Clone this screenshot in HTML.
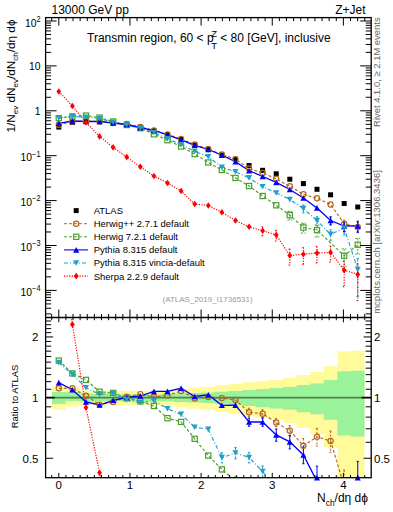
<!DOCTYPE html><html><head><meta charset="utf-8"><style>html,body{margin:0;padding:0;background:#fff;width:393px;height:512px;overflow:hidden}svg{display:block}</style></head><body><svg width="393" height="512" viewBox="0 0 393 512">
<defs><clipPath id="rclip"><rect x="45.6" y="317.5" width="325.59999999999997" height="160.2"/></clipPath><clipPath id="mclip"><rect x="45.6" y="17.6" width="325.59999999999997" height="299.9"/></clipPath></defs>
<rect width="393" height="512" fill="#fff"/>
<g clip-path="url(#rclip)">
<path d="M52.01 386.60L65.59 386.60L65.59 387.00L79.18 387.00L79.18 390.50L92.77 390.50L92.77 390.80L106.36 390.80L106.36 390.80L119.95 390.80L119.95 390.80L133.54 390.80L133.54 390.80L147.13 390.80L147.13 390.80L160.72 390.80L160.72 390.20L174.31 390.20L174.31 388.90L187.89 388.90L187.89 387.70L201.48 387.70L201.48 386.80L215.07 386.80L215.07 385.30L228.66 385.30L228.66 383.70L242.25 383.70L242.25 382.20L255.84 382.20L255.84 381.30L269.43 381.30L269.43 379.90L283.02 379.90L283.02 377.90L296.61 377.90L296.61 375.10L310.20 375.10L310.20 371.90L323.78 371.90L323.78 366.20L337.37 366.20L337.37 351.40L350.96 351.40L350.96 350.80L364.55 350.80L364.55 505.05L350.96 505.05L350.96 501.64L337.37 501.64L337.37 447.04L323.78 447.04L323.78 434.14L310.20 434.14L310.20 427.97L296.61 427.97L296.61 423.06L283.02 423.06L283.02 419.81L269.43 419.81L269.43 417.65L255.84 417.65L255.84 416.30L242.25 416.30L242.25 414.13L228.66 414.13L228.66 411.92L215.07 411.92L215.07 409.92L201.48 409.92L201.48 408.76L187.89 408.76L187.89 407.26L174.31 407.26L174.31 405.68L160.72 405.68L160.72 404.97L147.13 404.97L147.13 404.97L133.54 404.97L133.54 404.97L119.95 404.97L119.95 404.97L106.36 404.97L106.36 404.97L92.77 404.97L92.77 405.33L79.18 405.33L79.18 406.40L65.59 406.40L65.59 409.70L52.01 409.70Z" fill="#fffa9a"/>
<path d="M52.01 391.90L65.59 391.90L65.59 391.70L79.18 391.70L79.18 393.60L92.77 393.60L92.77 394.00L106.36 394.00L106.36 394.10L119.95 394.10L119.95 394.20L133.54 394.20L133.54 394.30L147.13 394.30L147.13 394.40L160.72 394.40L160.72 394.00L174.31 394.00L174.31 393.50L187.89 393.50L187.89 393.00L201.48 393.00L201.48 392.50L215.07 392.50L215.07 391.70L228.66 391.70L228.66 391.00L242.25 391.00L242.25 390.00L255.84 390.00L255.84 389.00L269.43 389.00L269.43 387.90L283.02 387.90L283.02 387.00L296.61 387.00L296.61 385.00L310.20 385.00L310.20 383.60L323.78 383.60L323.78 379.90L337.37 379.90L337.37 371.30L350.96 371.30L350.96 370.80L364.55 370.80L364.55 436.43L350.96 436.43L350.96 435.38L337.37 435.38L337.37 419.81L323.78 419.81L323.78 414.27L310.20 414.27L310.20 412.32L296.61 412.32L296.61 409.66L283.02 409.66L283.02 408.51L269.43 408.51L269.43 407.14L255.84 407.14L255.84 405.92L242.25 405.92L242.25 404.74L228.66 404.74L228.66 403.93L215.07 403.93L215.07 403.02L201.48 403.02L201.48 402.46L187.89 402.46L187.89 401.90L174.31 401.90L174.31 401.35L160.72 401.35L160.72 400.92L147.13 400.92L147.13 401.03L133.54 401.03L133.54 401.14L119.95 401.14L119.95 401.25L106.36 401.25L106.36 401.35L92.77 401.35L92.77 401.79L79.18 401.79L79.18 401.00L65.59 401.00L65.59 403.90L52.01 403.90Z" fill="#9af39a"/>
</g>
<path d="M54.81 397.60L361.35 397.60" stroke="#4f834f" stroke-width="1.6"/>
<path d="M45.6 397.60L54.81 397.60M361.35 397.60L371.2 397.60" stroke="#000" stroke-width="1.6"/>
<g clip-path="url(#mclip)">
<polyline points="58.80,124.80 72.39,121.50 85.98,121.00 99.57,121.50 113.16,123.00 126.74,124.00 140.33,127.00 153.92,130.50 167.51,134.50 181.10,138.90 194.69,144.50 208.28,149.00 221.87,154.50 235.46,159.20 249.05,168.50 262.63,173.00 276.22,178.80 289.81,186.30 303.40,194.30 316.99,198.30 330.58,204.50 344.17,223.70 357.76,227.00" fill="none" stroke="#b5651d" stroke-width="1.15" stroke-dasharray="3,2"/>
<polyline points="58.80,118.10 72.39,116.40 85.98,115.60 99.57,117.60 113.16,121.50 126.74,125.00 140.33,128.20 153.92,134.30 167.51,140.20 181.10,146.50 194.69,154.10 208.28,162.50 221.87,170.00 235.46,177.90 249.05,186.00 262.63,196.00 276.22,205.30 289.81,215.10 303.40,227.50 316.99,230.10 344.17,255.70 357.76,244.70" fill="none" stroke="#4aa02c" stroke-width="1.15" stroke-dasharray="3,2"/>
<polyline points="58.80,117.90 72.39,116.50 85.98,117.20 99.57,118.50 113.16,122.20 126.74,125.00 140.33,128.30 153.92,132.50 167.51,138.80 181.10,144.50 194.69,151.40 208.28,156.70 221.87,167.40 235.46,171.70 249.05,177.90 262.63,186.70 276.22,193.00 289.81,199.60 303.40,208.60 316.99,220.60 330.58,234.40 344.17,228.00 357.76,269.50" fill="none" stroke="#1ea0c8" stroke-width="1.15" stroke-dasharray="4,2,1,2"/>
<polyline points="58.80,91.50 72.39,106.00 85.98,122.50 99.57,136.40 113.16,147.40 126.74,157.10 140.33,166.80 153.92,176.00 167.51,183.00 181.10,191.00 194.69,204.00 208.28,205.50 221.87,212.30 235.46,220.50 249.05,226.80 262.63,230.80 276.22,234.90 289.81,255.50 303.40,254.20 316.99,253.00 330.58,252.40 344.17,270.20 357.76,274.40" fill="none" stroke="#ff0000" stroke-width="1.2" stroke-dasharray="1.2,1.4"/>
<polyline points="58.80,123.30 72.39,121.00 85.98,121.50 99.57,121.50 113.16,123.00 126.74,124.50 140.33,127.60 153.92,130.50 167.51,134.90 181.10,139.90 194.69,145.30 208.28,149.50 221.87,155.20 235.46,161.70 249.05,170.60 262.63,176.50 276.22,182.40 289.81,189.50 303.40,198.00 316.99,207.90 330.58,220.50 344.17,226.00 357.76,225.90" fill="none" stroke="#0000ff" stroke-width="1.3"/>
<path d="M344.17 220.14L344.17 228.05M342.97 220.14L345.37 220.14M342.97 228.05L345.37 228.05M357.76 222.65L357.76 232.61M356.56 222.65L358.96 222.65M356.56 232.61L358.96 232.61" fill="none" stroke="#b5651d" stroke-width="1.0" stroke-dasharray="2,1.5"/>
<path d="M289.81 211.22L289.81 219.94M287.41 211.22L292.21 211.22M287.41 219.94L292.21 219.94M303.40 223.15L303.40 233.11M301.00 223.15L305.80 223.15M301.00 233.11L305.80 233.11M316.99 224.98L316.99 237.06M314.59 224.98L319.39 224.98M314.59 237.06L319.39 237.06M344.17 248.86L344.17 266.32M341.77 248.86L346.57 248.86M341.77 266.32L346.57 266.32M357.76 238.42L357.76 254.02M355.36 238.42L360.16 238.42M355.36 254.02L360.16 254.02" fill="none" stroke="#4aa02c" stroke-width="1.0" stroke-dasharray="2,1.5"/>
<path d="M303.40 205.04L303.40 212.95M302.20 205.04L304.60 205.04M302.20 212.95L304.60 212.95M316.99 216.72L316.99 225.44M315.79 216.72L318.19 216.72M315.79 225.44L318.19 225.44M330.58 229.89L330.58 240.27M329.38 229.89L331.78 229.89M329.38 240.27L331.78 240.27M344.17 222.88L344.17 234.96M342.97 222.88L345.37 222.88M342.97 234.96L345.37 234.96M357.76 258.59L357.76 296.53M356.56 258.59L358.96 258.59M356.56 296.53L358.96 296.53" fill="none" stroke="#1ea0c8" stroke-width="1.0" stroke-dasharray="3,1.5"/>
<path d="M262.63 226.92L262.63 235.64M261.43 226.92L263.83 226.92M261.43 235.64L263.83 235.64M276.22 230.24L276.22 241.04M275.02 230.24L277.42 230.24M275.02 241.04L277.42 241.04M289.81 249.08L289.81 265.14M288.61 249.08L291.01 249.08M288.61 265.14L291.01 265.14M303.40 247.50L303.40 264.49M302.20 247.50L304.60 247.50M302.20 264.49L304.60 264.49M316.99 246.44L316.99 262.96M315.79 246.44L318.19 246.44M315.79 262.96L318.19 262.96M330.58 245.98L330.58 262.04M329.38 245.98L331.78 245.98M329.38 262.04L331.78 262.04M344.17 261.40L344.17 286.66M342.97 261.40L345.37 261.40M342.97 286.66L345.37 286.66M357.76 263.60L357.76 300.67M356.56 263.60L358.96 263.60M356.56 300.67L358.96 300.67" fill="none" stroke="#ff0000" stroke-width="1.2" stroke-dasharray="1.2,1.4"/>
<path d="M330.58 216.94L330.58 224.85M329.38 216.94L331.78 216.94M329.38 224.85L331.78 224.85M344.17 221.65L344.17 231.61M342.97 221.65L345.37 221.65M342.97 231.61L345.37 231.61M357.76 221.24L357.76 232.04M356.56 221.24L358.96 221.24M356.56 232.04L358.96 232.04" fill="none" stroke="#0000ff" stroke-width="1.2"/>
<rect x="56.30" y="124.60" width="5" height="5" fill="#000"/>
<rect x="69.89" y="120.00" width="5" height="5" fill="#000"/>
<rect x="83.48" y="119.00" width="5" height="5" fill="#000"/>
<rect x="97.07" y="119.20" width="5" height="5" fill="#000"/>
<rect x="110.66" y="120.50" width="5" height="5" fill="#000"/>
<rect x="124.24" y="122.00" width="5" height="5" fill="#000"/>
<rect x="137.83" y="124.80" width="5" height="5" fill="#000"/>
<rect x="151.42" y="128.50" width="5" height="5" fill="#000"/>
<rect x="165.01" y="132.00" width="5" height="5" fill="#000"/>
<rect x="178.60" y="137.00" width="5" height="5" fill="#000"/>
<rect x="192.19" y="142.50" width="5" height="5" fill="#000"/>
<rect x="205.78" y="147.00" width="5" height="5" fill="#000"/>
<rect x="219.37" y="152.50" width="5" height="5" fill="#000"/>
<rect x="232.96" y="156.70" width="5" height="5" fill="#000"/>
<rect x="246.55" y="163.00" width="5" height="5" fill="#000"/>
<rect x="260.13" y="167.80" width="5" height="5" fill="#000"/>
<rect x="273.72" y="171.30" width="5" height="5" fill="#000"/>
<rect x="287.31" y="176.70" width="5" height="5" fill="#000"/>
<rect x="300.90" y="181.10" width="5" height="5" fill="#000"/>
<rect x="314.49" y="186.80" width="5" height="5" fill="#000"/>
<rect x="328.08" y="192.30" width="5" height="5" fill="#000"/>
<rect x="341.67" y="201.00" width="5" height="5" fill="#000"/>
<rect x="355.26" y="204.50" width="5" height="5" fill="#000"/>
<circle cx="58.80" cy="124.80" r="2.6" fill="none" stroke="#b5651d" stroke-width="1.2"/>
<circle cx="72.39" cy="121.50" r="2.6" fill="none" stroke="#b5651d" stroke-width="1.2"/>
<circle cx="85.98" cy="121.00" r="2.6" fill="none" stroke="#b5651d" stroke-width="1.2"/>
<circle cx="99.57" cy="121.50" r="2.6" fill="none" stroke="#b5651d" stroke-width="1.2"/>
<circle cx="113.16" cy="123.00" r="2.6" fill="none" stroke="#b5651d" stroke-width="1.2"/>
<circle cx="126.74" cy="124.00" r="2.6" fill="none" stroke="#b5651d" stroke-width="1.2"/>
<circle cx="140.33" cy="127.00" r="2.6" fill="none" stroke="#b5651d" stroke-width="1.2"/>
<circle cx="153.92" cy="130.50" r="2.6" fill="none" stroke="#b5651d" stroke-width="1.2"/>
<circle cx="167.51" cy="134.50" r="2.6" fill="none" stroke="#b5651d" stroke-width="1.2"/>
<circle cx="181.10" cy="138.90" r="2.6" fill="none" stroke="#b5651d" stroke-width="1.2"/>
<circle cx="194.69" cy="144.50" r="2.6" fill="none" stroke="#b5651d" stroke-width="1.2"/>
<circle cx="208.28" cy="149.00" r="2.6" fill="none" stroke="#b5651d" stroke-width="1.2"/>
<circle cx="221.87" cy="154.50" r="2.6" fill="none" stroke="#b5651d" stroke-width="1.2"/>
<circle cx="235.46" cy="159.20" r="2.6" fill="none" stroke="#b5651d" stroke-width="1.2"/>
<circle cx="249.05" cy="168.50" r="2.6" fill="none" stroke="#b5651d" stroke-width="1.2"/>
<circle cx="262.63" cy="173.00" r="2.6" fill="none" stroke="#b5651d" stroke-width="1.2"/>
<circle cx="276.22" cy="178.80" r="2.6" fill="none" stroke="#b5651d" stroke-width="1.2"/>
<circle cx="289.81" cy="186.30" r="2.6" fill="none" stroke="#b5651d" stroke-width="1.2"/>
<circle cx="303.40" cy="194.30" r="2.6" fill="none" stroke="#b5651d" stroke-width="1.2"/>
<circle cx="316.99" cy="198.30" r="2.6" fill="none" stroke="#b5651d" stroke-width="1.2"/>
<circle cx="330.58" cy="204.50" r="2.6" fill="none" stroke="#b5651d" stroke-width="1.2"/>
<circle cx="344.17" cy="223.70" r="2.6" fill="none" stroke="#b5651d" stroke-width="1.2"/>
<circle cx="357.76" cy="227.00" r="2.6" fill="none" stroke="#b5651d" stroke-width="1.2"/>
<rect x="56.20" y="115.50" width="5.2" height="5.2" fill="none" stroke="#4aa02c" stroke-width="1.2"/>
<rect x="69.79" y="113.80" width="5.2" height="5.2" fill="none" stroke="#4aa02c" stroke-width="1.2"/>
<rect x="83.38" y="113.00" width="5.2" height="5.2" fill="none" stroke="#4aa02c" stroke-width="1.2"/>
<rect x="96.97" y="115.00" width="5.2" height="5.2" fill="none" stroke="#4aa02c" stroke-width="1.2"/>
<rect x="110.56" y="118.90" width="5.2" height="5.2" fill="none" stroke="#4aa02c" stroke-width="1.2"/>
<rect x="124.14" y="122.40" width="5.2" height="5.2" fill="none" stroke="#4aa02c" stroke-width="1.2"/>
<rect x="137.73" y="125.60" width="5.2" height="5.2" fill="none" stroke="#4aa02c" stroke-width="1.2"/>
<rect x="151.32" y="131.70" width="5.2" height="5.2" fill="none" stroke="#4aa02c" stroke-width="1.2"/>
<rect x="164.91" y="137.60" width="5.2" height="5.2" fill="none" stroke="#4aa02c" stroke-width="1.2"/>
<rect x="178.50" y="143.90" width="5.2" height="5.2" fill="none" stroke="#4aa02c" stroke-width="1.2"/>
<rect x="192.09" y="151.50" width="5.2" height="5.2" fill="none" stroke="#4aa02c" stroke-width="1.2"/>
<rect x="205.68" y="159.90" width="5.2" height="5.2" fill="none" stroke="#4aa02c" stroke-width="1.2"/>
<rect x="219.27" y="167.40" width="5.2" height="5.2" fill="none" stroke="#4aa02c" stroke-width="1.2"/>
<rect x="232.86" y="175.30" width="5.2" height="5.2" fill="none" stroke="#4aa02c" stroke-width="1.2"/>
<rect x="246.45" y="183.40" width="5.2" height="5.2" fill="none" stroke="#4aa02c" stroke-width="1.2"/>
<rect x="260.03" y="193.40" width="5.2" height="5.2" fill="none" stroke="#4aa02c" stroke-width="1.2"/>
<rect x="273.62" y="202.70" width="5.2" height="5.2" fill="none" stroke="#4aa02c" stroke-width="1.2"/>
<rect x="287.21" y="212.50" width="5.2" height="5.2" fill="none" stroke="#4aa02c" stroke-width="1.2"/>
<rect x="300.80" y="224.90" width="5.2" height="5.2" fill="none" stroke="#4aa02c" stroke-width="1.2"/>
<rect x="314.39" y="227.50" width="5.2" height="5.2" fill="none" stroke="#4aa02c" stroke-width="1.2"/>
<rect x="341.57" y="253.10" width="5.2" height="5.2" fill="none" stroke="#4aa02c" stroke-width="1.2"/>
<rect x="355.16" y="242.10" width="5.2" height="5.2" fill="none" stroke="#4aa02c" stroke-width="1.2"/>
<path d="M55.75 126.11L61.85 126.11L58.80 120.49Z" fill="#0000ff"/>
<path d="M69.34 123.81L75.44 123.81L72.39 118.19Z" fill="#0000ff"/>
<path d="M82.93 124.31L89.03 124.31L85.98 118.69Z" fill="#0000ff"/>
<path d="M96.52 124.31L102.62 124.31L99.57 118.69Z" fill="#0000ff"/>
<path d="M110.11 125.81L116.21 125.81L113.16 120.19Z" fill="#0000ff"/>
<path d="M123.69 127.31L129.79 127.31L126.74 121.69Z" fill="#0000ff"/>
<path d="M137.28 130.41L143.38 130.41L140.33 124.79Z" fill="#0000ff"/>
<path d="M150.87 133.31L156.97 133.31L153.92 127.69Z" fill="#0000ff"/>
<path d="M164.46 137.71L170.56 137.71L167.51 132.09Z" fill="#0000ff"/>
<path d="M178.05 142.71L184.15 142.71L181.10 137.09Z" fill="#0000ff"/>
<path d="M191.64 148.11L197.74 148.11L194.69 142.49Z" fill="#0000ff"/>
<path d="M205.23 152.31L211.33 152.31L208.28 146.69Z" fill="#0000ff"/>
<path d="M218.82 158.01L224.92 158.01L221.87 152.39Z" fill="#0000ff"/>
<path d="M232.41 164.51L238.51 164.51L235.46 158.89Z" fill="#0000ff"/>
<path d="M246.00 173.41L252.10 173.41L249.05 167.79Z" fill="#0000ff"/>
<path d="M259.58 179.31L265.68 179.31L262.63 173.69Z" fill="#0000ff"/>
<path d="M273.17 185.21L279.27 185.21L276.22 179.59Z" fill="#0000ff"/>
<path d="M286.76 192.31L292.86 192.31L289.81 186.69Z" fill="#0000ff"/>
<path d="M300.35 200.81L306.45 200.81L303.40 195.19Z" fill="#0000ff"/>
<path d="M313.94 210.71L320.04 210.71L316.99 205.09Z" fill="#0000ff"/>
<path d="M327.53 223.31L333.63 223.31L330.58 217.69Z" fill="#0000ff"/>
<path d="M341.12 228.81L347.22 228.81L344.17 223.19Z" fill="#0000ff"/>
<path d="M354.71 228.71L360.81 228.71L357.76 223.09Z" fill="#0000ff"/>
<path d="M55.75 115.09L61.85 115.09L58.80 120.71Z" fill="#1ea0c8"/>
<path d="M69.34 113.69L75.44 113.69L72.39 119.31Z" fill="#1ea0c8"/>
<path d="M82.93 114.39L89.03 114.39L85.98 120.01Z" fill="#1ea0c8"/>
<path d="M96.52 115.69L102.62 115.69L99.57 121.31Z" fill="#1ea0c8"/>
<path d="M110.11 119.39L116.21 119.39L113.16 125.01Z" fill="#1ea0c8"/>
<path d="M123.69 122.19L129.79 122.19L126.74 127.81Z" fill="#1ea0c8"/>
<path d="M137.28 125.49L143.38 125.49L140.33 131.11Z" fill="#1ea0c8"/>
<path d="M150.87 129.69L156.97 129.69L153.92 135.31Z" fill="#1ea0c8"/>
<path d="M164.46 135.99L170.56 135.99L167.51 141.61Z" fill="#1ea0c8"/>
<path d="M178.05 141.69L184.15 141.69L181.10 147.31Z" fill="#1ea0c8"/>
<path d="M191.64 148.59L197.74 148.59L194.69 154.21Z" fill="#1ea0c8"/>
<path d="M205.23 153.89L211.33 153.89L208.28 159.51Z" fill="#1ea0c8"/>
<path d="M218.82 164.59L224.92 164.59L221.87 170.21Z" fill="#1ea0c8"/>
<path d="M232.41 168.89L238.51 168.89L235.46 174.51Z" fill="#1ea0c8"/>
<path d="M246.00 175.09L252.10 175.09L249.05 180.71Z" fill="#1ea0c8"/>
<path d="M259.58 183.89L265.68 183.89L262.63 189.51Z" fill="#1ea0c8"/>
<path d="M273.17 190.19L279.27 190.19L276.22 195.81Z" fill="#1ea0c8"/>
<path d="M286.76 196.79L292.86 196.79L289.81 202.41Z" fill="#1ea0c8"/>
<path d="M300.35 205.79L306.45 205.79L303.40 211.41Z" fill="#1ea0c8"/>
<path d="M313.94 217.79L320.04 217.79L316.99 223.41Z" fill="#1ea0c8"/>
<path d="M327.53 231.59L333.63 231.59L330.58 237.21Z" fill="#1ea0c8"/>
<path d="M341.12 225.19L347.22 225.19L344.17 230.81Z" fill="#1ea0c8"/>
<path d="M354.71 266.69L360.81 266.69L357.76 272.31Z" fill="#1ea0c8"/>
<path d="M58.80 88.20L61.20 91.50L58.80 94.80L56.40 91.50Z" fill="#ff0000"/>
<path d="M72.39 102.70L74.79 106.00L72.39 109.30L69.99 106.00Z" fill="#ff0000"/>
<path d="M85.98 119.20L88.38 122.50L85.98 125.80L83.58 122.50Z" fill="#ff0000"/>
<path d="M99.57 133.10L101.97 136.40L99.57 139.70L97.17 136.40Z" fill="#ff0000"/>
<path d="M113.16 144.10L115.56 147.40L113.16 150.70L110.76 147.40Z" fill="#ff0000"/>
<path d="M126.74 153.80L129.14 157.10L126.74 160.40L124.34 157.10Z" fill="#ff0000"/>
<path d="M140.33 163.50L142.73 166.80L140.33 170.10L137.93 166.80Z" fill="#ff0000"/>
<path d="M153.92 172.70L156.32 176.00L153.92 179.30L151.52 176.00Z" fill="#ff0000"/>
<path d="M167.51 179.70L169.91 183.00L167.51 186.30L165.11 183.00Z" fill="#ff0000"/>
<path d="M181.10 187.70L183.50 191.00L181.10 194.30L178.70 191.00Z" fill="#ff0000"/>
<path d="M194.69 200.70L197.09 204.00L194.69 207.30L192.29 204.00Z" fill="#ff0000"/>
<path d="M208.28 202.20L210.68 205.50L208.28 208.80L205.88 205.50Z" fill="#ff0000"/>
<path d="M221.87 209.00L224.27 212.30L221.87 215.60L219.47 212.30Z" fill="#ff0000"/>
<path d="M235.46 217.20L237.86 220.50L235.46 223.80L233.06 220.50Z" fill="#ff0000"/>
<path d="M249.05 223.50L251.45 226.80L249.05 230.10L246.65 226.80Z" fill="#ff0000"/>
<path d="M262.63 227.50L265.03 230.80L262.63 234.10L260.23 230.80Z" fill="#ff0000"/>
<path d="M276.22 231.60L278.62 234.90L276.22 238.20L273.82 234.90Z" fill="#ff0000"/>
<path d="M289.81 252.20L292.21 255.50L289.81 258.80L287.41 255.50Z" fill="#ff0000"/>
<path d="M303.40 250.90L305.80 254.20L303.40 257.50L301.00 254.20Z" fill="#ff0000"/>
<path d="M316.99 249.70L319.39 253.00L316.99 256.30L314.59 253.00Z" fill="#ff0000"/>
<path d="M330.58 249.10L332.98 252.40L330.58 255.70L328.18 252.40Z" fill="#ff0000"/>
<path d="M344.17 266.90L346.57 270.20L344.17 273.50L341.77 270.20Z" fill="#ff0000"/>
<path d="M357.76 271.10L360.16 274.40L357.76 277.70L355.36 274.40Z" fill="#ff0000"/>
</g>
<g clip-path="url(#rclip)">
<polyline points="58.80,388.30 72.39,388.30 85.98,395.80 99.57,404.60 113.16,402.00 126.74,396.70 140.33,394.10 153.92,396.90 167.51,395.40 181.10,391.00 194.69,398.50 208.28,397.10 221.87,398.10 235.46,400.00 249.05,412.20 262.63,413.70 276.22,422.50 289.81,430.70 303.40,445.70 316.99,436.80 330.58,441.00 344.17,486.00" fill="none" stroke="#b5651d" stroke-width="1.15" stroke-dasharray="3,2"/>
<polyline points="58.80,360.60 72.39,373.40 85.98,379.90 99.57,391.70 113.16,392.90 126.74,398.20 140.33,401.30 153.92,406.00 167.51,418.20 181.10,421.90 194.69,438.80 208.28,455.60 221.87,469.40 235.46,481.00" fill="none" stroke="#4aa02c" stroke-width="1.15" stroke-dasharray="3,2"/>
<polyline points="58.80,362.60 72.39,374.40 85.98,387.70 99.57,394.40 113.16,393.20 126.74,399.80 140.33,402.80 153.92,400.90 167.51,408.70 181.10,414.40 194.69,427.20 208.28,429.40 221.87,457.60 235.46,453.00 249.05,457.50 262.63,471.50 276.22,490.00" fill="none" stroke="#1ea0c8" stroke-width="1.15" stroke-dasharray="4,2,1,2"/>
<polyline points="58.80,237.00 72.39,324.40 85.98,407.60 99.57,472.70 113.16,540.00" fill="none" stroke="#ff0000" stroke-width="1.2" stroke-dasharray="1.2,1.4"/>
<polyline points="58.80,382.60 72.39,389.70 85.98,401.90 99.57,405.00 113.16,400.30 126.74,397.50 140.33,396.00 153.92,391.40 167.51,391.40 181.10,388.30 194.69,396.50 208.28,394.80 221.87,405.30 235.46,405.10 249.05,422.00 262.63,422.00 276.22,434.90 289.81,441.90 303.40,455.00 316.99,481.40" fill="none" stroke="#0000ff" stroke-width="1.3"/>
<path d="M249.05 408.18L249.05 416.41M247.85 408.18L250.25 408.18M247.85 416.41L250.25 416.41M262.63 409.68L262.63 417.91M261.43 409.68L263.83 409.68M261.43 417.91L263.83 417.91M276.22 418.65L276.22 426.53M275.02 418.65L277.42 418.65M275.02 426.53L277.42 426.53M289.81 425.60L289.81 436.11M288.61 425.60L291.01 425.60M288.61 436.11L291.01 436.11M303.40 438.56L303.40 453.47M302.20 438.56L304.60 438.56M302.20 453.47L304.60 453.47M316.99 428.46L316.99 446.02M315.79 428.46L318.19 428.46M315.79 446.02L318.19 446.02M330.58 431.08L330.58 452.19M329.38 431.08L331.78 431.08M329.38 452.19L331.78 452.19M344.17 470.04L344.17 505.53M342.97 470.04L345.37 470.04M342.97 505.53L345.37 505.53" fill="none" stroke="#b5651d" stroke-width="1.0" stroke-dasharray="2,1.5"/>
<path d="M235.46 476.73L235.46 485.49M234.26 476.73L236.66 476.73M234.26 485.49L236.66 485.49" fill="none" stroke="#4aa02c" stroke-width="1.0" stroke-dasharray="2,1.5"/>
<path d="M221.87 452.67L221.87 462.83M220.67 452.67L223.07 452.67M220.67 462.83L223.07 462.83M235.46 447.49L235.46 458.88M234.26 447.49L236.66 447.49M234.26 458.88L236.66 458.88M249.05 452.40L249.05 462.91M247.85 452.40L250.25 452.40M247.85 462.91L250.25 462.91M262.63 465.99L262.63 477.38M261.43 465.99L263.83 465.99M261.43 477.38L263.83 477.38M276.22 481.66L276.22 499.22M275.02 481.66L277.42 481.66M275.02 499.22L277.42 499.22" fill="none" stroke="#1ea0c8" stroke-width="1.0" stroke-dasharray="3,1.5"/>
<path d="M249.05 417.98L249.05 426.21M247.85 417.98L250.25 417.98M247.85 426.21L250.25 426.21M262.63 417.98L262.63 426.21M261.43 417.98L263.83 417.98M261.43 426.21L263.83 426.21M276.22 428.98L276.22 441.25M275.02 428.98L277.42 428.98M275.02 441.25L277.42 441.25M289.81 435.41L289.81 448.91M288.61 435.41L291.01 435.41M288.61 448.91L291.01 448.91M303.40 447.06L303.40 463.74M302.20 447.06L304.60 447.06M302.20 463.74L304.60 463.74M316.99 466.18L316.99 499.84M315.79 466.18L318.19 466.18M315.79 499.84L318.19 499.84M357.76 461.38L357.76 509.84M356.56 461.38L358.96 461.38M356.56 509.84L358.96 509.84" fill="none" stroke="#0000ff" stroke-width="1.0"/>
</g>
<circle cx="58.80" cy="388.30" r="2.6" fill="none" stroke="#b5651d" stroke-width="1.2"/>
<circle cx="72.39" cy="388.30" r="2.6" fill="none" stroke="#b5651d" stroke-width="1.2"/>
<circle cx="85.98" cy="395.80" r="2.6" fill="none" stroke="#b5651d" stroke-width="1.2"/>
<circle cx="99.57" cy="404.60" r="2.6" fill="none" stroke="#b5651d" stroke-width="1.2"/>
<circle cx="113.16" cy="402.00" r="2.6" fill="none" stroke="#b5651d" stroke-width="1.2"/>
<circle cx="126.74" cy="396.70" r="2.6" fill="none" stroke="#b5651d" stroke-width="1.2"/>
<circle cx="140.33" cy="394.10" r="2.6" fill="none" stroke="#b5651d" stroke-width="1.2"/>
<circle cx="153.92" cy="396.90" r="2.6" fill="none" stroke="#b5651d" stroke-width="1.2"/>
<circle cx="167.51" cy="395.40" r="2.6" fill="none" stroke="#b5651d" stroke-width="1.2"/>
<circle cx="181.10" cy="391.00" r="2.6" fill="none" stroke="#b5651d" stroke-width="1.2"/>
<circle cx="194.69" cy="398.50" r="2.6" fill="none" stroke="#b5651d" stroke-width="1.2"/>
<circle cx="208.28" cy="397.10" r="2.6" fill="none" stroke="#b5651d" stroke-width="1.2"/>
<circle cx="221.87" cy="398.10" r="2.6" fill="none" stroke="#b5651d" stroke-width="1.2"/>
<circle cx="235.46" cy="400.00" r="2.6" fill="none" stroke="#b5651d" stroke-width="1.2"/>
<circle cx="249.05" cy="412.20" r="2.6" fill="none" stroke="#b5651d" stroke-width="1.2"/>
<circle cx="262.63" cy="413.70" r="2.6" fill="none" stroke="#b5651d" stroke-width="1.2"/>
<circle cx="276.22" cy="422.50" r="2.6" fill="none" stroke="#b5651d" stroke-width="1.2"/>
<circle cx="289.81" cy="430.70" r="2.6" fill="none" stroke="#b5651d" stroke-width="1.2"/>
<circle cx="303.40" cy="445.70" r="2.6" fill="none" stroke="#b5651d" stroke-width="1.2"/>
<circle cx="316.99" cy="436.80" r="2.6" fill="none" stroke="#b5651d" stroke-width="1.2"/>
<circle cx="330.58" cy="441.00" r="2.6" fill="none" stroke="#b5651d" stroke-width="1.2"/>
<rect x="56.20" y="358.00" width="5.2" height="5.2" fill="none" stroke="#4aa02c" stroke-width="1.2"/>
<rect x="69.79" y="370.80" width="5.2" height="5.2" fill="none" stroke="#4aa02c" stroke-width="1.2"/>
<rect x="83.38" y="377.30" width="5.2" height="5.2" fill="none" stroke="#4aa02c" stroke-width="1.2"/>
<rect x="96.97" y="389.10" width="5.2" height="5.2" fill="none" stroke="#4aa02c" stroke-width="1.2"/>
<rect x="110.56" y="390.30" width="5.2" height="5.2" fill="none" stroke="#4aa02c" stroke-width="1.2"/>
<rect x="124.14" y="395.60" width="5.2" height="5.2" fill="none" stroke="#4aa02c" stroke-width="1.2"/>
<rect x="137.73" y="398.70" width="5.2" height="5.2" fill="none" stroke="#4aa02c" stroke-width="1.2"/>
<rect x="151.32" y="403.40" width="5.2" height="5.2" fill="none" stroke="#4aa02c" stroke-width="1.2"/>
<rect x="164.91" y="415.60" width="5.2" height="5.2" fill="none" stroke="#4aa02c" stroke-width="1.2"/>
<rect x="178.50" y="419.30" width="5.2" height="5.2" fill="none" stroke="#4aa02c" stroke-width="1.2"/>
<rect x="192.09" y="436.20" width="5.2" height="5.2" fill="none" stroke="#4aa02c" stroke-width="1.2"/>
<rect x="205.68" y="453.00" width="5.2" height="5.2" fill="none" stroke="#4aa02c" stroke-width="1.2"/>
<rect x="219.27" y="466.80" width="5.2" height="5.2" fill="none" stroke="#4aa02c" stroke-width="1.2"/>
<path d="M55.75 385.41L61.85 385.41L58.80 379.79Z" fill="#0000ff"/>
<path d="M69.34 392.51L75.44 392.51L72.39 386.89Z" fill="#0000ff"/>
<path d="M82.93 404.71L89.03 404.71L85.98 399.09Z" fill="#0000ff"/>
<path d="M96.52 407.81L102.62 407.81L99.57 402.19Z" fill="#0000ff"/>
<path d="M110.11 403.11L116.21 403.11L113.16 397.49Z" fill="#0000ff"/>
<path d="M123.69 400.31L129.79 400.31L126.74 394.69Z" fill="#0000ff"/>
<path d="M137.28 398.81L143.38 398.81L140.33 393.19Z" fill="#0000ff"/>
<path d="M150.87 394.21L156.97 394.21L153.92 388.59Z" fill="#0000ff"/>
<path d="M164.46 394.21L170.56 394.21L167.51 388.59Z" fill="#0000ff"/>
<path d="M178.05 391.11L184.15 391.11L181.10 385.49Z" fill="#0000ff"/>
<path d="M191.64 399.31L197.74 399.31L194.69 393.69Z" fill="#0000ff"/>
<path d="M205.23 397.61L211.33 397.61L208.28 391.99Z" fill="#0000ff"/>
<path d="M218.82 408.11L224.92 408.11L221.87 402.49Z" fill="#0000ff"/>
<path d="M232.41 407.91L238.51 407.91L235.46 402.29Z" fill="#0000ff"/>
<path d="M246.00 424.81L252.10 424.81L249.05 419.19Z" fill="#0000ff"/>
<path d="M259.58 424.81L265.68 424.81L262.63 419.19Z" fill="#0000ff"/>
<path d="M273.17 437.71L279.27 437.71L276.22 432.09Z" fill="#0000ff"/>
<path d="M286.76 444.71L292.86 444.71L289.81 439.09Z" fill="#0000ff"/>
<path d="M300.35 457.81L306.45 457.81L303.40 452.19Z" fill="#0000ff"/>
<path d="M313.94 480.51L320.04 480.51L316.99 474.89Z" fill="#0000ff"/>
<path d="M354.71 480.51L360.81 480.51L357.76 474.89Z" fill="#0000ff"/>
<path d="M55.75 359.79L61.85 359.79L58.80 365.41Z" fill="#1ea0c8"/>
<path d="M69.34 371.59L75.44 371.59L72.39 377.21Z" fill="#1ea0c8"/>
<path d="M82.93 384.89L89.03 384.89L85.98 390.51Z" fill="#1ea0c8"/>
<path d="M96.52 391.59L102.62 391.59L99.57 397.21Z" fill="#1ea0c8"/>
<path d="M110.11 390.39L116.21 390.39L113.16 396.01Z" fill="#1ea0c8"/>
<path d="M123.69 396.99L129.79 396.99L126.74 402.61Z" fill="#1ea0c8"/>
<path d="M137.28 399.99L143.38 399.99L140.33 405.61Z" fill="#1ea0c8"/>
<path d="M150.87 398.09L156.97 398.09L153.92 403.71Z" fill="#1ea0c8"/>
<path d="M164.46 405.89L170.56 405.89L167.51 411.51Z" fill="#1ea0c8"/>
<path d="M178.05 411.59L184.15 411.59L181.10 417.21Z" fill="#1ea0c8"/>
<path d="M191.64 424.39L197.74 424.39L194.69 430.01Z" fill="#1ea0c8"/>
<path d="M205.23 426.59L211.33 426.59L208.28 432.21Z" fill="#1ea0c8"/>
<path d="M218.82 454.79L224.92 454.79L221.87 460.41Z" fill="#1ea0c8"/>
<path d="M232.41 450.19L238.51 450.19L235.46 455.81Z" fill="#1ea0c8"/>
<path d="M246.00 454.69L252.10 454.69L249.05 460.31Z" fill="#1ea0c8"/>
<path d="M259.58 468.69L265.68 468.69L262.63 474.31Z" fill="#1ea0c8"/>
<path d="M72.39 321.10L74.79 324.40L72.39 327.70L69.99 324.40Z" fill="#ff0000"/>
<path d="M85.98 404.30L88.38 407.60L85.98 410.90L83.58 407.60Z" fill="#ff0000"/>
<path d="M99.57 469.40L101.97 472.70L99.57 476.00L97.17 472.70Z" fill="#ff0000"/>
<path d="M45.60 313.88L51.10 313.88M371.20 313.88L365.70 313.88M45.60 308.27L51.10 308.27M371.20 308.27L365.70 308.27M45.60 303.92L51.10 303.92M371.20 303.92L365.70 303.92M45.60 300.36L51.10 300.36M371.20 300.36L365.70 300.36M45.60 297.36L51.10 297.36M371.20 297.36L365.70 297.36M45.60 294.75L51.10 294.75M371.20 294.75L365.70 294.75M45.60 292.45L51.10 292.45M371.20 292.45L365.70 292.45M45.60 290.40L56.60 290.40M371.20 290.40L360.20 290.40M45.60 276.88L51.10 276.88M371.20 276.88L365.70 276.88M45.60 268.98L51.10 268.98M371.20 268.98L365.70 268.98M45.60 263.37L51.10 263.37M371.20 263.37L365.70 263.37M45.60 259.02L51.10 259.02M371.20 259.02L365.70 259.02M45.60 255.46L51.10 255.46M371.20 255.46L365.70 255.46M45.60 252.46L51.10 252.46M371.20 252.46L365.70 252.46M45.60 249.85L51.10 249.85M371.20 249.85L365.70 249.85M45.60 247.55L51.10 247.55M371.20 247.55L365.70 247.55M45.60 245.50L56.60 245.50M371.20 245.50L360.20 245.50M45.60 231.98L51.10 231.98M371.20 231.98L365.70 231.98M45.60 224.08L51.10 224.08M371.20 224.08L365.70 224.08M45.60 218.47L51.10 218.47M371.20 218.47L365.70 218.47M45.60 214.12L51.10 214.12M371.20 214.12L365.70 214.12M45.60 210.56L51.10 210.56M371.20 210.56L365.70 210.56M45.60 207.56L51.10 207.56M371.20 207.56L365.70 207.56M45.60 204.95L51.10 204.95M371.20 204.95L365.70 204.95M45.60 202.65L51.10 202.65M371.20 202.65L365.70 202.65M45.60 200.60L56.60 200.60M371.20 200.60L360.20 200.60M45.60 187.08L51.10 187.08M371.20 187.08L365.70 187.08M45.60 179.18L51.10 179.18M371.20 179.18L365.70 179.18M45.60 173.57L51.10 173.57M371.20 173.57L365.70 173.57M45.60 169.22L51.10 169.22M371.20 169.22L365.70 169.22M45.60 165.66L51.10 165.66M371.20 165.66L365.70 165.66M45.60 162.66L51.10 162.66M371.20 162.66L365.70 162.66M45.60 160.05L51.10 160.05M371.20 160.05L365.70 160.05M45.60 157.75L51.10 157.75M371.20 157.75L365.70 157.75M45.60 155.70L56.60 155.70M371.20 155.70L360.20 155.70M45.60 142.18L51.10 142.18M371.20 142.18L365.70 142.18M45.60 134.28L51.10 134.28M371.20 134.28L365.70 134.28M45.60 128.67L51.10 128.67M371.20 128.67L365.70 128.67M45.60 124.32L51.10 124.32M371.20 124.32L365.70 124.32M45.60 120.76L51.10 120.76M371.20 120.76L365.70 120.76M45.60 117.76L51.10 117.76M371.20 117.76L365.70 117.76M45.60 115.15L51.10 115.15M371.20 115.15L365.70 115.15M45.60 112.85L51.10 112.85M371.20 112.85L365.70 112.85M45.60 110.80L56.60 110.80M371.20 110.80L360.20 110.80M45.60 97.28L51.10 97.28M371.20 97.28L365.70 97.28M45.60 89.38L51.10 89.38M371.20 89.38L365.70 89.38M45.60 83.77L51.10 83.77M371.20 83.77L365.70 83.77M45.60 79.42L51.10 79.42M371.20 79.42L365.70 79.42M45.60 75.86L51.10 75.86M371.20 75.86L365.70 75.86M45.60 72.86L51.10 72.86M371.20 72.86L365.70 72.86M45.60 70.25L51.10 70.25M371.20 70.25L365.70 70.25M45.60 67.95L51.10 67.95M371.20 67.95L365.70 67.95M45.60 65.90L56.60 65.90M371.20 65.90L360.20 65.90M45.60 52.38L51.10 52.38M371.20 52.38L365.70 52.38M45.60 44.48L51.10 44.48M371.20 44.48L365.70 44.48M45.60 38.87L51.10 38.87M371.20 38.87L365.70 38.87M45.60 34.52L51.10 34.52M371.20 34.52L365.70 34.52M45.60 30.96L51.10 30.96M371.20 30.96L365.70 30.96M45.60 27.96L51.10 27.96M371.20 27.96L365.70 27.96M45.60 25.35L51.10 25.35M371.20 25.35L365.70 25.35M45.60 23.05L51.10 23.05M371.20 23.05L365.70 23.05M45.60 21.00L56.60 21.00M371.20 21.00L360.20 21.00M51.68 17.60L51.68 21.10M51.68 317.50L51.68 314.00M51.68 317.50L51.68 320.20M51.68 477.70L51.68 475.00M58.80 17.60L58.80 25.60M58.80 317.50L58.80 309.50M58.80 317.50L58.80 322.30M58.80 477.70L58.80 472.90M65.91 17.60L65.91 21.10M65.91 317.50L65.91 314.00M65.91 317.50L65.91 320.20M65.91 477.70L65.91 475.00M73.03 17.60L73.03 21.10M73.03 317.50L73.03 314.00M73.03 317.50L73.03 320.20M73.03 477.70L73.03 475.00M80.14 17.60L80.14 21.10M80.14 317.50L80.14 314.00M80.14 317.50L80.14 320.20M80.14 477.70L80.14 475.00M87.26 17.60L87.26 21.10M87.26 317.50L87.26 314.00M87.26 317.50L87.26 320.20M87.26 477.70L87.26 475.00M94.38 17.60L94.38 21.10M94.38 317.50L94.38 314.00M94.38 317.50L94.38 320.20M94.38 477.70L94.38 475.00M101.49 17.60L101.49 21.10M101.49 317.50L101.49 314.00M101.49 317.50L101.49 320.20M101.49 477.70L101.49 475.00M108.60 17.60L108.60 21.10M108.60 317.50L108.60 314.00M108.60 317.50L108.60 320.20M108.60 477.70L108.60 475.00M115.72 17.60L115.72 21.10M115.72 317.50L115.72 314.00M115.72 317.50L115.72 320.20M115.72 477.70L115.72 475.00M122.84 17.60L122.84 21.10M122.84 317.50L122.84 314.00M122.84 317.50L122.84 320.20M122.84 477.70L122.84 475.00M129.95 17.60L129.95 25.60M129.95 317.50L129.95 309.50M129.95 317.50L129.95 322.30M129.95 477.70L129.95 472.90M137.06 17.60L137.06 21.10M137.06 317.50L137.06 314.00M137.06 317.50L137.06 320.20M137.06 477.70L137.06 475.00M144.18 17.60L144.18 21.10M144.18 317.50L144.18 314.00M144.18 317.50L144.18 320.20M144.18 477.70L144.18 475.00M151.30 17.60L151.30 21.10M151.30 317.50L151.30 314.00M151.30 317.50L151.30 320.20M151.30 477.70L151.30 475.00M158.41 17.60L158.41 21.10M158.41 317.50L158.41 314.00M158.41 317.50L158.41 320.20M158.41 477.70L158.41 475.00M165.53 17.60L165.53 21.10M165.53 317.50L165.53 314.00M165.53 317.50L165.53 320.20M165.53 477.70L165.53 475.00M172.64 17.60L172.64 21.10M172.64 317.50L172.64 314.00M172.64 317.50L172.64 320.20M172.64 477.70L172.64 475.00M179.75 17.60L179.75 21.10M179.75 317.50L179.75 314.00M179.75 317.50L179.75 320.20M179.75 477.70L179.75 475.00M186.87 17.60L186.87 21.10M186.87 317.50L186.87 314.00M186.87 317.50L186.87 320.20M186.87 477.70L186.87 475.00M193.99 17.60L193.99 21.10M193.99 317.50L193.99 314.00M193.99 317.50L193.99 320.20M193.99 477.70L193.99 475.00M201.10 17.60L201.10 25.60M201.10 317.50L201.10 309.50M201.10 317.50L201.10 322.30M201.10 477.70L201.10 472.90M208.22 17.60L208.22 21.10M208.22 317.50L208.22 314.00M208.22 317.50L208.22 320.20M208.22 477.70L208.22 475.00M215.33 17.60L215.33 21.10M215.33 317.50L215.33 314.00M215.33 317.50L215.33 320.20M215.33 477.70L215.33 475.00M222.44 17.60L222.44 21.10M222.44 317.50L222.44 314.00M222.44 317.50L222.44 320.20M222.44 477.70L222.44 475.00M229.56 17.60L229.56 21.10M229.56 317.50L229.56 314.00M229.56 317.50L229.56 320.20M229.56 477.70L229.56 475.00M236.68 17.60L236.68 21.10M236.68 317.50L236.68 314.00M236.68 317.50L236.68 320.20M236.68 477.70L236.68 475.00M243.79 17.60L243.79 21.10M243.79 317.50L243.79 314.00M243.79 317.50L243.79 320.20M243.79 477.70L243.79 475.00M250.91 17.60L250.91 21.10M250.91 317.50L250.91 314.00M250.91 317.50L250.91 320.20M250.91 477.70L250.91 475.00M258.02 17.60L258.02 21.10M258.02 317.50L258.02 314.00M258.02 317.50L258.02 320.20M258.02 477.70L258.02 475.00M265.13 17.60L265.13 21.10M265.13 317.50L265.13 314.00M265.13 317.50L265.13 320.20M265.13 477.70L265.13 475.00M272.25 17.60L272.25 25.60M272.25 317.50L272.25 309.50M272.25 317.50L272.25 322.30M272.25 477.70L272.25 472.90M279.37 17.60L279.37 21.10M279.37 317.50L279.37 314.00M279.37 317.50L279.37 320.20M279.37 477.70L279.37 475.00M286.48 17.60L286.48 21.10M286.48 317.50L286.48 314.00M286.48 317.50L286.48 320.20M286.48 477.70L286.48 475.00M293.60 17.60L293.60 21.10M293.60 317.50L293.60 314.00M293.60 317.50L293.60 320.20M293.60 477.70L293.60 475.00M300.71 17.60L300.71 21.10M300.71 317.50L300.71 314.00M300.71 317.50L300.71 320.20M300.71 477.70L300.71 475.00M307.83 17.60L307.83 21.10M307.83 317.50L307.83 314.00M307.83 317.50L307.83 320.20M307.83 477.70L307.83 475.00M314.94 17.60L314.94 21.10M314.94 317.50L314.94 314.00M314.94 317.50L314.94 320.20M314.94 477.70L314.94 475.00M322.06 17.60L322.06 21.10M322.06 317.50L322.06 314.00M322.06 317.50L322.06 320.20M322.06 477.70L322.06 475.00M329.17 17.60L329.17 21.10M329.17 317.50L329.17 314.00M329.17 317.50L329.17 320.20M329.17 477.70L329.17 475.00M336.29 17.60L336.29 21.10M336.29 317.50L336.29 314.00M336.29 317.50L336.29 320.20M336.29 477.70L336.29 475.00M343.40 17.60L343.40 25.60M343.40 317.50L343.40 309.50M343.40 317.50L343.40 322.30M343.40 477.70L343.40 472.90M350.51 17.60L350.51 21.10M350.51 317.50L350.51 314.00M350.51 317.50L350.51 320.20M350.51 477.70L350.51 475.00M357.63 17.60L357.63 21.10M357.63 317.50L357.63 314.00M357.63 317.50L357.63 320.20M357.63 477.70L357.63 475.00M364.75 17.60L364.75 21.10M364.75 317.50L364.75 314.00M364.75 317.50L364.75 320.20M364.75 477.70L364.75 475.00M45.60 458.26L53.20 458.26M371.20 458.26L363.60 458.26M45.60 442.30L51.20 442.30M371.20 442.30L365.60 442.30M45.60 428.81L51.20 428.81M371.20 428.81L365.60 428.81M45.60 417.13L51.20 417.13M371.20 417.13L365.60 417.13M45.60 406.82L51.20 406.82M371.20 406.82L365.60 406.82M45.60 397.60L53.20 397.60M371.20 397.60L363.60 397.60M45.60 389.26L51.20 389.26M371.20 389.26L365.60 389.26M45.60 381.64L51.20 381.64M371.20 381.64L365.60 381.64M45.60 374.64L51.20 374.64M371.20 374.64L365.60 374.64M45.60 368.16L51.20 368.16M371.20 368.16L365.60 368.16M45.60 362.12L51.20 362.12M371.20 362.12L365.60 362.12M45.60 356.47L51.20 356.47M371.20 356.47L365.60 356.47M45.60 351.16L51.20 351.16M371.20 351.16L365.60 351.16M45.60 346.16L51.20 346.16M371.20 346.16L365.60 346.16M45.60 341.43L51.20 341.43M371.20 341.43L365.60 341.43M45.60 336.94L53.20 336.94M371.20 336.94L363.60 336.94M45.60 332.67L51.20 332.67M371.20 332.67L365.60 332.67M45.60 328.60L51.20 328.60M371.20 328.60L365.60 328.60M45.60 324.71L51.20 324.71M371.20 324.71L365.60 324.71M45.60 320.99L51.20 320.99M371.20 320.99L365.60 320.99" stroke="#000" stroke-width="1" fill="none"/>
<rect x="45.6" y="17.6" width="325.59999999999997" height="460.09999999999997" fill="none" stroke="#000" stroke-width="1.3"/>
<line x1="45.6" y1="317.5" x2="371.2" y2="317.5" stroke="#000" stroke-width="1.3"/>
<text x="51.5" y="13.7" font-family="Liberation Sans" font-size="12">13000 GeV pp</text>
<text x="365.5" y="13.7" font-family="Liberation Sans" font-size="12" text-anchor="end">Z+Jet</text>
<text transform="translate(40.5,26.5) scale(0.9,1)" font-family="Liberation Sans" font-size="11.5" text-anchor="end">10<tspan font-size="8.2" dy="-4.7">2</tspan></text>
<text transform="translate(40.5,70.3) scale(0.9,1)" font-family="Liberation Sans" font-size="11.5" text-anchor="end">10</text>
<text transform="translate(40.5,115.2) scale(0.9,1)" font-family="Liberation Sans" font-size="11.5" text-anchor="end">1</text>
<text transform="translate(40.5,161.2) scale(0.9,1)" font-family="Liberation Sans" font-size="11.5" text-anchor="end">10<tspan font-size="8.2" dy="-4.7">−1</tspan></text>
<text transform="translate(40.5,206.1) scale(0.9,1)" font-family="Liberation Sans" font-size="11.5" text-anchor="end">10<tspan font-size="8.2" dy="-4.7">−2</tspan></text>
<text transform="translate(40.5,251.0) scale(0.9,1)" font-family="Liberation Sans" font-size="11.5" text-anchor="end">10<tspan font-size="8.2" dy="-4.7">−3</tspan></text>
<text transform="translate(40.5,295.9) scale(0.9,1)" font-family="Liberation Sans" font-size="11.5" text-anchor="end">10<tspan font-size="8.2" dy="-4.7">−4</tspan></text>
<text x="58.8" y="489" font-family="Liberation Sans" font-size="11.5" text-anchor="middle">0</text>
<text x="129.9" y="489" font-family="Liberation Sans" font-size="11.5" text-anchor="middle">1</text>
<text x="201.1" y="489" font-family="Liberation Sans" font-size="11.5" text-anchor="middle">2</text>
<text x="272.2" y="489" font-family="Liberation Sans" font-size="11.5" text-anchor="middle">3</text>
<text x="343.4" y="489" font-family="Liberation Sans" font-size="11.5" text-anchor="middle">4</text>
<text x="38.5" y="341.1" font-family="Liberation Sans" font-size="11.5" text-anchor="end">2</text>
<text x="374" y="341.1" font-family="Liberation Sans" font-size="11.5">2</text>
<text x="38.5" y="401.8" font-family="Liberation Sans" font-size="11.5" text-anchor="end">1</text>
<text x="374" y="401.8" font-family="Liberation Sans" font-size="11.5">1</text>
<text x="38.5" y="462.5" font-family="Liberation Sans" font-size="11.5" text-anchor="end">0.5</text>
<text x="374" y="462.5" font-family="Liberation Sans" font-size="11.5">0.5</text>
<text x="87" y="41.8" font-family="Liberation Sans" font-size="12">Transmin region, 60 &lt; p<tspan font-size="9.5" dx="-2.5" dy="-5.3">Z</tspan><tspan font-size="9.5" dx="-5.8" dy="12.2">T</tspan><tspan dy="-6.9"> &lt; 80 [GeV], inclusive</tspan></text>
<text x="93.7" y="214.0" font-family="Liberation Sans" font-size="9.48">ATLAS</text>
<text x="93.7" y="227.1" font-family="Liberation Sans" font-size="9.48">Herwig++ 2.7.1 default</text>
<text x="93.7" y="240.2" font-family="Liberation Sans" font-size="9.48">Herwig 7.2.1 default</text>
<text x="93.7" y="253.3" font-family="Liberation Sans" font-size="9.48">Pythia 8.315 default</text>
<text x="93.7" y="266.4" font-family="Liberation Sans" font-size="9.48">Pythia 8.315 vincia-default</text>
<text x="93.7" y="279.5" font-family="Liberation Sans" font-size="9.48">Sherpa 2.2.9 default</text>
<rect x="73.70" y="208.10" width="5" height="5" fill="#000"/>
<line x1="64" y1="223.7" x2="88" y2="223.7" stroke="#b5651d" stroke-dasharray="3,2"/><circle cx="76.20" cy="223.70" r="2.6" fill="none" stroke="#b5651d" stroke-width="1.2"/>
<line x1="64" y1="236.79999999999998" x2="88" y2="236.79999999999998" stroke="#4aa02c" stroke-dasharray="3,2"/><rect x="73.60" y="234.20" width="5.2" height="5.2" fill="none" stroke="#4aa02c" stroke-width="1.2"/>
<line x1="64" y1="249.89999999999998" x2="88" y2="249.89999999999998" stroke="#0000ff" stroke-width="1.1"/><path d="M73.15 252.71L79.25 252.71L76.20 247.09Z" fill="#0000ff"/>
<line x1="64" y1="263.0" x2="88" y2="263.0" stroke="#1ea0c8" stroke-dasharray="4,2,1,2"/><path d="M73.15 260.19L79.25 260.19L76.20 265.81Z" fill="#1ea0c8"/>
<line x1="64" y1="276.1" x2="88" y2="276.1" stroke="#ff0000" stroke-width="1.2" stroke-dasharray="1.2,1.4"/><path d="M76.20 272.80L78.60 276.10L76.20 279.40L73.80 276.10Z" fill="#ff0000"/>
<text x="162.5" y="302.4" font-family="Liberation Sans" font-size="8" fill="#999">(ATLAS_2019_I1736531)</text>
<text transform="translate(14.9,132.5) rotate(-90)" font-family="Liberation Sans" font-size="11.75">1/N<tspan font-size="8" dy="3">ev</tspan><tspan dy="-3"> dN</tspan><tspan font-size="8" dy="3">ev</tspan><tspan dy="-3">/dN</tspan><tspan font-size="8" dy="3">ch</tspan><tspan dy="-3">/dη dϕ</tspan></text>
<text transform="translate(18.3,428.2) rotate(-90)" font-family="Liberation Sans" font-size="9.4">Ratio to ATLAS</text>
<text x="368" y="502.4" font-family="Liberation Sans" font-size="12" text-anchor="end">N<tspan font-size="8.4" dy="3.6">ch</tspan><tspan dy="-3.6">/dη dϕ</tspan></text>
<text transform="translate(380.3,126.9) rotate(-90)" font-family="Liberation Sans" font-size="9.45" fill="#666">Rivet 4.1.0, ≥ 2.1M events</text>
<text transform="translate(380.3,313.8) rotate(-90)" font-family="Liberation Sans" font-size="9.5" fill="#666">mcplots.cern.ch [arXiv:1306.3436]</text>
</svg></body></html>
